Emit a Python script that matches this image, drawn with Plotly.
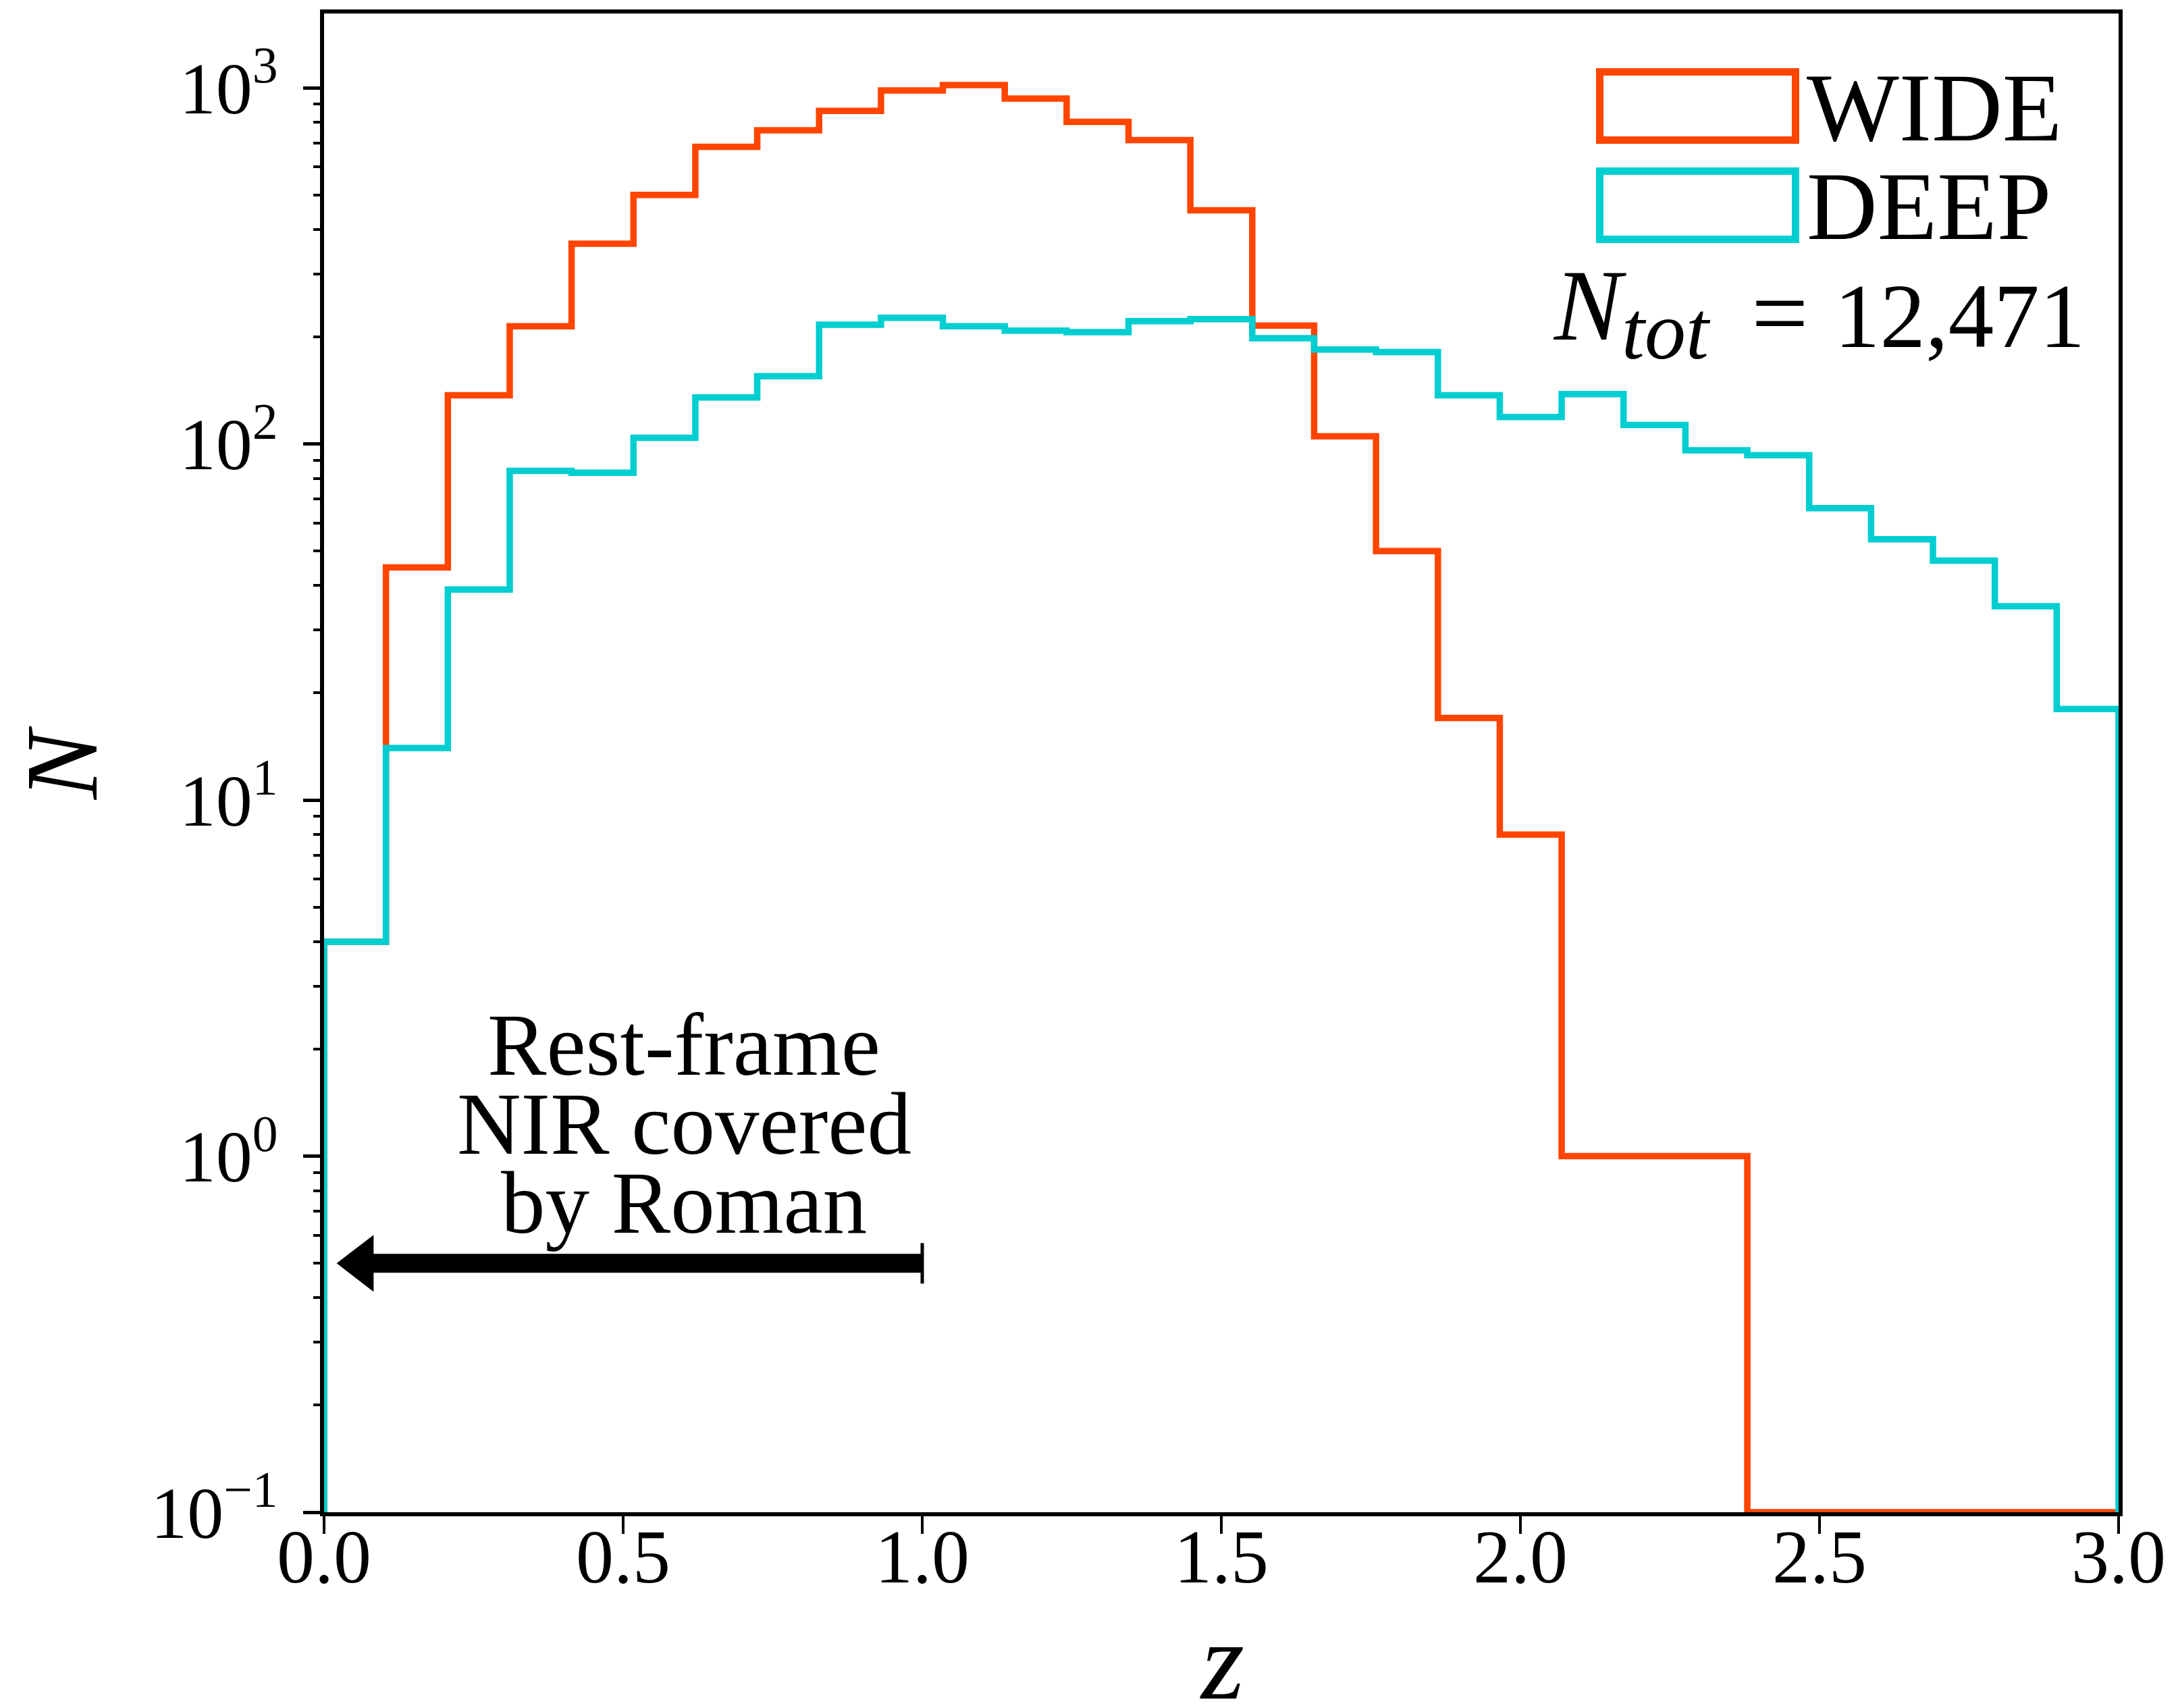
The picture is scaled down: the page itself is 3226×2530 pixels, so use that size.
import numpy as np
import plotly.graph_objects as go

# ---------------- data ----------------
Z_MIN, Z_MAX, N_BINS = 0.0, 3.0, 29
WIDE_COUNTS = [4, 45, 137, 214, 365, 500, 683, 760, 861, 983, 1018, 933, 802,
               713, 453, 215, 105, 50, 17, 8, 1, 1, 1, 0, 0, 0, 0, 0, 0]
DEEP_COUNTS = [4, 14, 39, 84, 83, 104, 135, 155, 216, 226, 214, 208, 206,
               221, 224, 198, 184, 181, 137, 119, 138, 113, 96, 93, 66, 54,
               47, 35, 18]
SERIES_NAMES = ["WIDE", "DEEP"]
N_TOT_LABEL = "12,471"
X_TICKS = [0.0, 0.5, 1.0, 1.5, 2.0, 2.5, 3.0]
Y_DECADES = [-1, 0, 1, 2, 3]
ANNOT_LINES = ["Rest-frame", "NIR covered", "by Roman"]
ARROW_FROM, ARROW_TO, ARROW_Y = 1.0, 0.0, 0.5
Y_FLOOR = 0.1

# ---------------- style / layout ----------------
W, H = 3226, 2530
ML, MR, MT, MB = 480, 88, 20, 290
PW, PH = W - ML - MR, H - MT - MB
Y_LOG_RANGE = [-1.0, 3.2086]
DEC_PX = PH / (Y_LOG_RANGE[1] - Y_LOG_RANGE[0])
X_PER_PX = (Z_MAX - Z_MIN) / PW
ORANGE = "#FF4500"
CYAN = "#00CED1"
FONT = "Liberation Serif"
LW = 9.5


def pxx(px):
    return (px - ML) / PW


def pxy(py):
    return (H - MB - py) / PH


def step_xy(counts):
    edges = np.linspace(Z_MIN, Z_MAX, N_BINS + 1)
    vals = np.maximum(np.asarray(counts, float), Y_FLOOR)
    xs, ys = [edges[0]], [Y_FLOOR]
    for i, v in enumerate(vals):
        xs += [edges[i], edges[i + 1]]
        ys += [v, v]
    xs.append(edges[-1])
    ys.append(Y_FLOOR)
    return xs, ys


fig = go.Figure()
for name, counts, col in zip(SERIES_NAMES, [WIDE_COUNTS, DEEP_COUNTS], [ORANGE, CYAN]):
    xs, ys = step_xy(counts)
    fig.add_trace(go.Scatter(x=xs, y=ys, mode="lines", name=name,
                             line=dict(color=col, width=LW), showlegend=False,
                             hoverinfo="skip"))

# arrow: shaft, head, end bar
tip_x = ARROW_TO + 13 * X_PER_PX
head_size = 73
head_center = tip_x + (head_size / 2) * 2 / np.sqrt(3) * X_PER_PX
fig.add_trace(go.Scatter(x=[head_center, ARROW_FROM], y=[ARROW_Y, ARROW_Y], mode="lines",
                         line=dict(color="black", width=28), showlegend=False, hoverinfo="skip"))
fig.add_trace(go.Scatter(x=[head_center], y=[ARROW_Y], mode="markers",
                         marker=dict(symbol="triangle-left", size=head_size, color="black",
                                     line=dict(width=0)),
                         showlegend=False, hoverinfo="skip", cliponaxis=False))
bar_half = 30 / DEC_PX
fig.add_trace(go.Scatter(x=[ARROW_FROM, ARROW_FROM],
                         y=[ARROW_Y * 10 ** (-bar_half), ARROW_Y * 10 ** bar_half],
                         mode="lines", line=dict(color="black", width=5),
                         showlegend=False, hoverinfo="skip"))

annotations = []
# annotation text lines
fs_note = 131
for i, txt in enumerate(ANNOT_LINES):
    base = 1592 + i * 117
    annotations.append(dict(text=txt, x=pxx(1013), y=pxy(base - 0.3375 * fs_note),
                            xref="paper", yref="paper", xanchor="center", yanchor="middle",
                            showarrow=False, font=dict(family=FONT, size=fs_note, color="black")))

# manual legend
fs_leg = 145
for name, col, top, base in zip(SERIES_NAMES, [ORANGE, CYAN], [101, 248], [208, 353.5]):
    fig.add_shape(type="rect", xref="paper", yref="paper",
                  x0=pxx(2364 + 5.5), x1=pxx(2665 - 5.5),
                  y0=pxy(top + 112 - 5.5), y1=pxy(top + 5.5),
                  line=dict(color=col, width=11), fillcolor="rgba(0,0,0,0)")
    annotations.append(dict(text=name, x=pxx(2674), y=pxy(base - 0.3375 * fs_leg),
                            xref="paper", yref="paper", xanchor="left", yanchor="middle",
                            showarrow=False, font=dict(family=FONT, size=fs_leg, color="black")))

# N_tot text
fs_nt = 135
annotations.append(dict(text="<span style='font-size:150px'><i>N</i></span>"
                             "<sub><span style='font-size:122px'><i>tot</i></span></sub>",
                        x=pxx(2298), y=pxy(514 - 0.3375 * 150), xref="paper", yref="paper",
                        xanchor="left", yanchor="middle", showarrow=False,
                        font=dict(family=FONT, size=fs_nt, color="black")))
annotations.append(dict(text="=", x=pxx(2636), y=pxy(514 - 0.3375 * 150),
                        xref="paper", yref="paper", xanchor="center", yanchor="middle",
                        showarrow=False, font=dict(family=FONT, size=150, color="black")))
annotations.append(dict(text=N_TOT_LABEL, x=pxx(3090), y=pxy(514 - 0.3375 * fs_nt),
                        xref="paper", yref="paper", xanchor="right", yanchor="middle",
                        showarrow=False, font=dict(family=FONT, size=fs_nt, color="black")))

# axis titles
annotations.append(dict(text="<i>N</i>", x=pxx(92), y=pxy(1131), xref="paper", yref="paper",
                        xanchor="center", yanchor="middle", textangle=-90, showarrow=False,
                        font=dict(family=FONT, size=152, color="black")))
annotations.append(dict(text="<i>z</i>", x=pxx(1810), y=pxy(2516 - 0.3375 * 165),
                        xref="paper", yref="paper", xanchor="center", yanchor="middle",
                        showarrow=False, font=dict(family=FONT, size=165, color="black")))

minor_vals = [m * 10.0 ** d for d in Y_DECADES for m in range(2, 10)]

fig.update_layout(
    width=W, height=H,
    margin=dict(l=ML, r=MR, t=MT, b=MB),
    paper_bgcolor="white", plot_bgcolor="white",
    showlegend=False,
    annotations=annotations,
    font=dict(family=FONT, color="black"),
    xaxis=dict(range=[Z_MIN, Z_MAX], tickvals=X_TICKS,
               ticktext=[f"{v:.1f}" for v in X_TICKS],
               ticks="outside", ticklen=26, tickwidth=4, tickcolor="black",
               ticklabelstandoff=-62,
               showline=True, linewidth=5.5, linecolor="black", mirror=True,
               showgrid=False, zeroline=False,
               tickfont=dict(family=FONT, size=112, color="black")),
    yaxis=dict(type="log", range=Y_LOG_RANGE,
               tickvals=[10.0 ** d for d in Y_DECADES],
               ticktext=[f"10<sup>{'−' + str(-d) if d < 0 else d}</sup>" for d in Y_DECADES],
               ticks="outside", ticklen=25, tickwidth=4.5, tickcolor="black",
               ticklabelstandoff=16,
               minor=dict(tickvals=minor_vals, ticks="outside", ticklen=10, tickwidth=3.5,
                          tickcolor="black", showgrid=False),
               showline=True, linewidth=5.5, linecolor="black", mirror=True,
               showgrid=False, zeroline=False,
               tickfont=dict(family=FONT, size=108, color="black")),
)

fig.write_html("out.html")
